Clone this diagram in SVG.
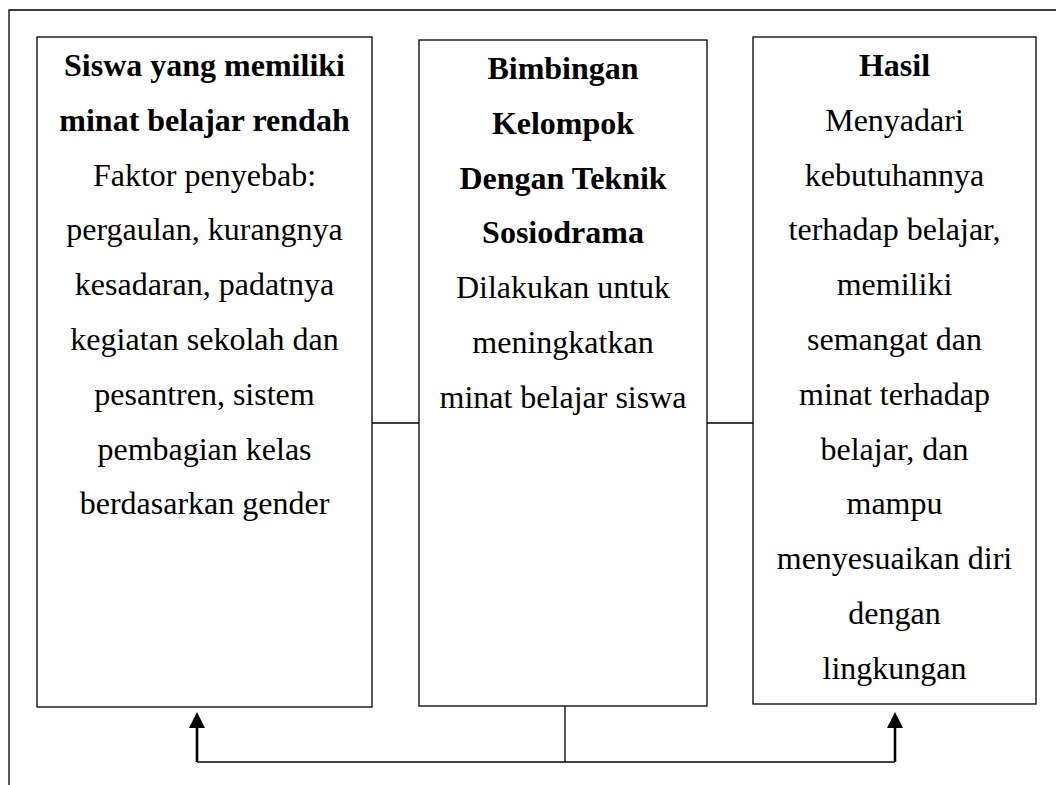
<svg xmlns="http://www.w3.org/2000/svg" width="1056" height="785" viewBox="0 0 1056 785">
<style>
.box{fill:#fff;stroke:#000;stroke-width:1.3}
.ln{fill:none;stroke:#000;stroke-width:1.3}
.ar{fill:none;stroke:#000;stroke-width:2.6}
text{font-family:"Liberation Serif","Times New Roman",serif;font-size:32px;fill:#000;text-anchor:middle}
.b{font-weight:bold}
</style>
<g id="frame">
<path class="ln" d="M9,785 V10 H1056"/>
</g>
<g id="connectors">
<line class="ln" x1="372" y1="423" x2="419" y2="423"/>
<line class="ln" x1="707" y1="423" x2="753" y2="423"/>
<line class="ln" x1="565" y1="706" x2="565" y2="762"/>
<path class="ln" d="M197,762 H895"/>
<line class="ar" x1="197" y1="762" x2="197" y2="727"/>
<line class="ar" x1="895" y1="762" x2="895" y2="727"/>
<path d="M197,712 L189,728 L205,728 Z" fill="#000"/>
<path d="M895,712 L887,728 L903,728 Z" fill="#000"/>
</g>
<g id="node1">
<rect class="box" x="37" y="37" width="335" height="670"/>
<text x="204.5" y="76" class="b">Siswa yang memiliki</text>
<text x="204.5" y="131" class="b">minat belajar rendah</text>
<text x="204.5" y="186">Faktor penyebab:</text>
<text x="204.5" y="240">pergaulan, kurangnya</text>
<text x="204.5" y="295">kesadaran, padatnya</text>
<text x="204.5" y="350">kegiatan sekolah dan</text>
<text x="204.5" y="405">pesantren, sistem</text>
<text x="204.5" y="460">pembagian kelas</text>
<text x="204.5" y="514">berdasarkan gender</text>
</g>
<g id="node2">
<rect class="box" x="419" y="40" width="288" height="666"/>
<text x="563" y="79" class="b">Bimbingan</text>
<text x="563" y="134" class="b">Kelompok</text>
<text x="563" y="189" class="b">Dengan Teknik</text>
<text x="563" y="243" class="b">Sosiodrama</text>
<text x="563" y="298">Dilakukan untuk</text>
<text x="563" y="353">meningkatkan</text>
<text x="563" y="408">minat belajar siswa</text>
</g>
<g id="node3">
<rect class="box" x="753" y="37" width="283" height="667"/>
<text x="894.5" y="76" class="b">Hasil</text>
<text x="894.5" y="131">Menyadari</text>
<text x="894.5" y="186">kebutuhannya</text>
<text x="894.5" y="240">terhadap belajar,</text>
<text x="894.5" y="295">memiliki</text>
<text x="894.5" y="350">semangat dan</text>
<text x="894.5" y="405">minat terhadap</text>
<text x="894.5" y="460">belajar, dan</text>
<text x="894.5" y="514">mampu</text>
<text x="894.5" y="569">menyesuaikan diri</text>
<text x="894.5" y="624">dengan</text>
<text x="894.5" y="679">lingkungan</text>
</g>
</svg>
